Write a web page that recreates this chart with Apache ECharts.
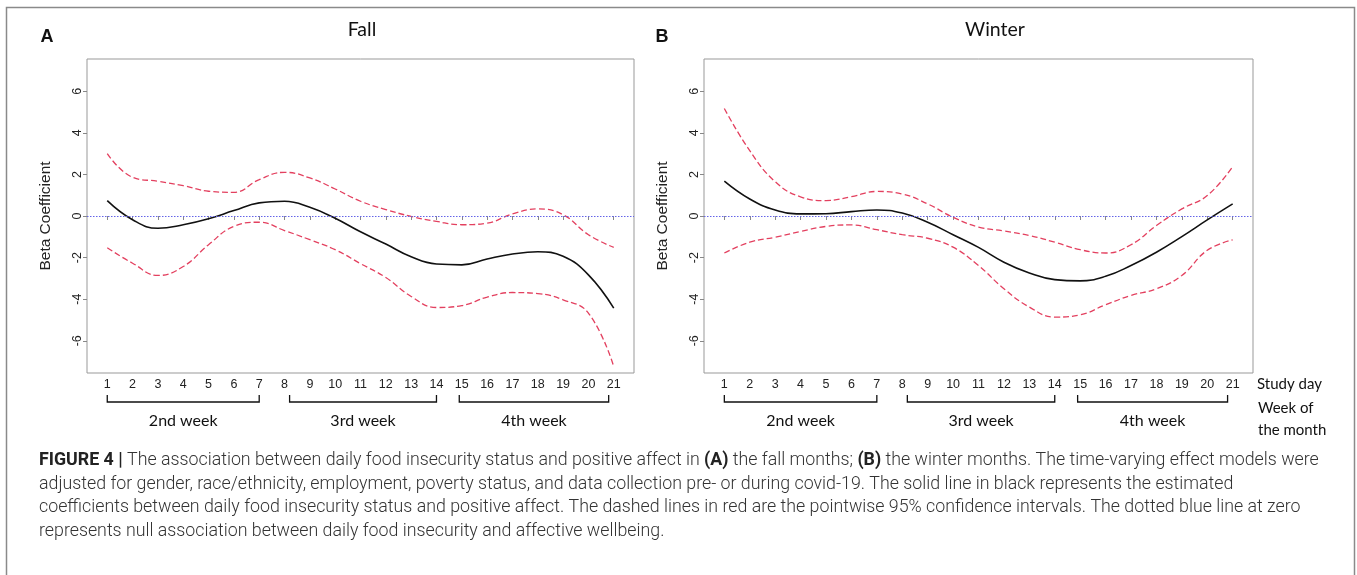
<!DOCTYPE html>
<html>
<head>
<meta charset="utf-8">
<script src="https://cdn.jsdelivr.net/npm/echarts@6/dist/echarts.min.js"></script>
<style>
html,body{margin:0;padding:0;background:#fff;}
#chart{width:1357px;height:575px;}
</style>
</head>
<body>
<div id="chart"></div>
<script>
// ---- data ----
const days = [1,2,3,4,5,6,7,8,9,10,11,12,13,14,15,16,17,18,19,20,21];
const yTicks = [-6,-4,-2,0,2,4,6];

const fallEstimate = [0.74,-0.18,-0.59,-0.42,-0.13,0.26,0.63,0.71,0.42,-0.11,-0.76,-1.35,-1.96,-2.31,-2.35,-2.07,-1.83,-1.72,-1.94,-2.83,-4.43];
const fallUpper    = [3.00,1.86,1.67,1.46,1.19,1.14,1.75,2.10,1.83,1.30,0.71,0.31,-0.02,-0.26,-0.42,-0.34,0.10,0.34,0.06,-0.90,-1.51];
const fallLower    = [-1.53,-2.27,-2.86,-2.43,-1.38,-0.50,-0.30,-0.70,-1.14,-1.62,-2.29,-2.96,-3.87,-4.40,-4.31,-3.90,-3.68,-3.73,-4.03,-4.67,-7.24];

const winterEstimate = [1.68,0.82,0.29,0.10,0.11,0.21,0.29,0.14,-0.30,-0.90,-1.51,-2.22,-2.74,-3.06,-3.12,-2.90,-2.38,-1.74,-0.99,-0.19,0.58];
const winterUpper    = [5.17,3.14,1.65,0.92,0.74,0.93,1.18,1.06,0.58,-0.06,-0.53,-0.72,-0.94,-1.26,-1.62,-1.78,-1.38,-0.46,0.34,0.98,2.37];
const winterLower    = [-1.78,-1.26,-1.02,-0.74,-0.50,-0.43,-0.66,-0.90,-1.07,-1.50,-2.38,-3.50,-4.38,-4.86,-4.75,-4.27,-3.82,-3.50,-2.86,-1.65,-1.15];

const weekStart = [1, 8.2, 14.9];
const weekEnd   = [7, 14, 20.8];
const weekNames = ['2nd week','3rd week','4th week'];

const panelLetters = ['A','B'];
const panelTitles = ['Fall','Winter'];
const yAxisName = 'Beta Coefficient';

const captionLines = [
  '{b|FIGURE 4 |} The association between daily food insecurity status and positive affect in {b|(A)} the fall months; {b|(B)} the winter months. The time-varying effect models were',
  'adjusted for gender, race/ethnicity, employment, poverty status, and data collection pre- or during covid-19. The solid line in black represents the estimated',
  'coefficients between daily food insecurity status and positive affect. The dashed lines in red are the pointwise 95% confidence intervals. The dotted blue line at zero',
  'represents null association between daily food insecurity and affective wellbeing.'
];

// ---- styling ----
const X_MIN = 0.2, X_MAX = 21.8, Y_MIN = -7.55, Y_MAX = 7.55;
const RED = '#e3405f', BLACK = '#111', BLUE = '#6464e8';
const tickFont = '"Liberation Sans", Arial, sans-serif';
const calFont = 'Lato, "Open Sans", sans-serif';
const capFont = 'Roboto, "Liberation Sans", sans-serif';
const CAP_SIZE = 17.8;

const pairs = arr => days.map((d,i)=>[d, arr[i]]);
const weekData = weekStart.map((s,i)=>[s, weekEnd[i], weekNames[i]]);

const grids = [
  {left: 87, top: 59, width: 547, height: 314},
  {left: 704, top: 59, width: 549, height: 314}
];

function xAxis(i){
  return {
    gridIndex: i, type: 'value', min: X_MIN, max: X_MAX,
    axisLine: {show: false}, splitLine: {show: false},
    axisTick: {show: true, length: 4, customValues: days, lineStyle: {color: '#888'}},
    axisLabel: {customValues: days, margin: 5, fontSize: 12.5, color: '#222', fontFamily: tickFont}
  };
}
function yAxis(i){
  return {
    gridIndex: i, type: 'value', min: Y_MIN, max: Y_MAX,
    name: yAxisName, nameLocation: 'middle', nameGap: 33, nameRotate: 90,
    nameTextStyle: {fontSize: 15.5, color: '#222', fontFamily: tickFont},
    axisLine: {show: false}, splitLine: {show: false},
    axisTick: {show: true, length: 4, customValues: yTicks, lineStyle: {color: '#888'}},
    axisLabel: {customValues: yTicks, rotate: 90, margin: 3, fontSize: 12.5, color: '#222', fontFamily: tickFont}
  };
}
function lineSeries(i, arr, color, type, width, extra){
  return Object.assign({
    type: 'line', xAxisIndex: i, yAxisIndex: i, data: pairs(arr),
    smooth: 0.45, showSymbol: false, symbol: 'none', silent: true,
    lineStyle: {color: color, type: type, width: width}
  }, extra || {});
}
function weekSeries(i){
  return {
    type: 'custom', xAxisIndex: i, yAxisIndex: i, data: weekData, silent: true, clip: false,
    encode: {x: [0,1], y: -1},
    renderItem: function(params, api){
      const s = api.coord([api.value(0), Y_MIN]);
      const e = api.coord([api.value(1), Y_MIN]);
      const yb = s[1] + 29, yt = s[1] + 22;
      return {
        type: 'group',
        children: [
          {type: 'polyline', shape: {points: [[s[0], yt],[s[0], yb],[e[0], yb],[e[0], yt]]},
           style: {stroke: '#111', lineWidth: 1.3, fill: null}},
          {type: 'text', style: {text: weekNames[params.dataIndex], x: (s[0]+e[0])/2, y: s[1] + 48,
            align: 'center', verticalAlign: 'middle', font: '16px ' + calFont, fill: '#111'}}
        ]
      };
    }
  };
}

const series = [];
[[fallEstimate, fallUpper, fallLower],[winterEstimate, winterUpper, winterLower]].forEach((g, i)=>{
  series.push(lineSeries(i, g[0], BLACK, 'solid', 1.6, {
    z: 3,
    markLine: {silent: true, symbol: 'none', label: {show: false},
      lineStyle: {color: BLUE, type: [1.5,1.5], width: 1},
      data: [{yAxis: 0}]}
  }));
  series.push(lineSeries(i, g[1], RED, [6,3], 1.3));
  series.push(lineSeries(i, g[2], RED, [6,3], 1.3));
  series.push(weekSeries(i));
});

const graphics = [
  {type: 'rect', shape: {x: 6.5, y: 7.5, width: 1348, height: 600}, style: {fill: null, stroke: '#8a8a8a', lineWidth: 1.5}, silent: true},
  {type: 'text', style: {text: panelLetters[0], x: 47, y: 37, align: 'center', verticalAlign: 'middle', font: 'bold 18px "Liberation Sans", Arial, sans-serif', fill: '#111'}},
  {type: 'text', style: {text: panelLetters[1], x: 662, y: 37, align: 'center', verticalAlign: 'middle', font: 'bold 18px "Liberation Sans", Arial, sans-serif', fill: '#111'}},
  {type: 'text', style: {text: panelTitles[0], x: 362, y: 30, align: 'center', verticalAlign: 'middle', font: '19.5px ' + calFont, fill: '#111'}},
  {type: 'text', style: {text: panelTitles[1], x: 995, y: 30, align: 'center', verticalAlign: 'middle', font: '19.5px ' + calFont, fill: '#111'}},
  {type: 'text', style: {text: 'Study day', x: 1257, y: 384, align: 'left', verticalAlign: 'middle', font: '15px ' + calFont, fill: '#111'}},
  {type: 'text', style: {text: 'Week of', x: 1258, y: 408, align: 'left', verticalAlign: 'middle', font: '15px ' + calFont, fill: '#111'}},
  {type: 'text', style: {text: 'the month', x: 1258, y: 430, align: 'left', verticalAlign: 'middle', font: '15px ' + calFont, fill: '#111'}}
];
captionLines.forEach((t, k)=>{
  graphics.push({type: 'text', style: {text: t, x: 39, y: 461 + k*23.4, align: 'left', verticalAlign: 'middle',
    fontSize: CAP_SIZE, fontFamily: capFont, fontWeight: 300, fill: '#333',
    rich: {b: {fontSize: CAP_SIZE, fontFamily: capFont, fontWeight: 'bold', fill: '#222'}}}});
});

const chart = echarts.init(document.getElementById('chart'), null, {renderer: 'canvas'});
chart.setOption({
  animation: false,
  backgroundColor: '#fff',
  grid: grids.map(g => Object.assign({show: true, borderColor: '#999', borderWidth: 1, backgroundColor: 'transparent'}, g)),
  xAxis: [xAxis(0), xAxis(1)],
  yAxis: [yAxis(0), yAxis(1)],
  series: series,
  graphic: graphics
});
</script>
</body>
</html>
